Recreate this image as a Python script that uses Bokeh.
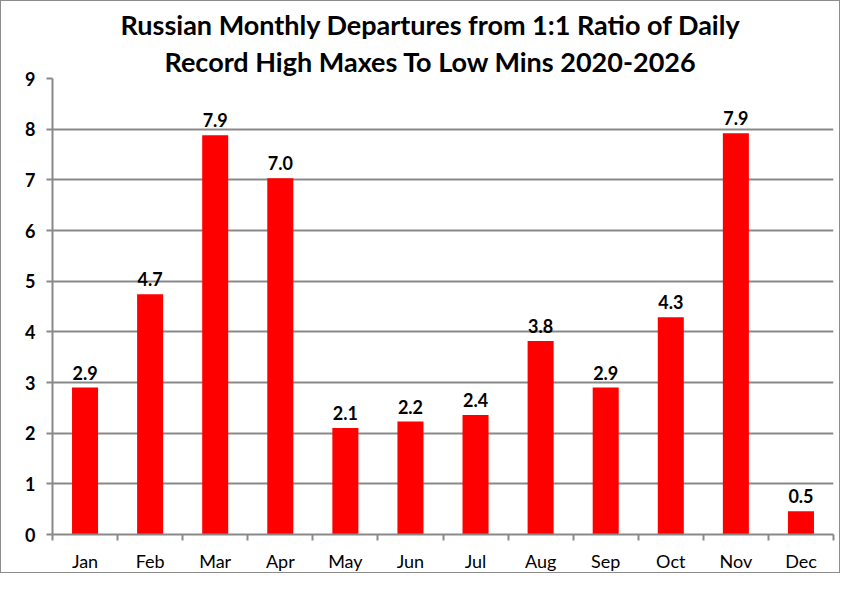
import numpy as np
from bokeh.plotting import figure
from bokeh.models import ColumnDataSource, LabelSet, Title, Range1d, FixedTicker
from bokeh.core.properties import value
from bokeh.embed import file_html
from bokeh.resources import INLINE

# 数据
months = ['Jan', 'Feb', 'Mar', 'Apr', 'May', 'Jun', 'Jul', 'Aug', 'Sep', 'Oct', 'Nov', 'Dec']
ratio = [2.90, 4.74, 7.88, 7.03, 2.10, 2.23, 2.36, 3.82, 2.90, 4.29, 7.92, 0.46]
y_ticks = [0, 1, 2, 3, 4, 5, 6, 7, 8, 9]
title_lines = ['Russian Monthly Departures from 1:1 Ratio of Daily',
               'Record High Maxes To Low Mins 2020-2026']

FONT = 'Lato'
GRID = '#898989'

xpos = [i + 0.5 for i in range(len(months))]
src = ColumnDataSource(dict(x=xpos, top=ratio,
                            lbl=['{:.1f}'.format(v) for v in ratio]))

p = figure(width=840, height=573,
           x_range=Range1d(0, len(months)), y_range=Range1d(0, 9),
           output_backend="svg", toolbar_location=None,
           min_border_left=51, min_border_right=8,
           min_border_top=77, min_border_bottom=30)
p.outline_line_color = None
p.background_fill_color = 'white'
p.border_fill_color = 'white'
p.styles = {"border": "1px solid #8c8c8c"}

# 标题（两行，先加第二行，靠近绘图区；整图居中而非绘图区居中）
p.title = None
for t, off in zip(reversed(title_lines), [112, 68]):
    p.add_layout(Title(text=t, align='left', text_font=FONT,
                       text_font_style='bold', text_font_size='27px',
                       text_color='black', standoff=2, offset=off), 'above')

# 柱子
p.vbar(x='x', top='top', width=0.4, bottom=0, source=src,
       fill_color='#ff0000', line_color=None)

# 数值标签
labels = LabelSet(x='x', y='top', text='lbl', source=src,
                  text_align='center', text_baseline='bottom', y_offset=8,
                  text_font=value(FONT), text_font_style='bold',
                  text_font_size='18px', text_color='black')
p.add_layout(labels)

# y轴
p.yaxis.ticker = FixedTicker(ticks=y_ticks)
p.yaxis.axis_line_color = GRID
p.yaxis.axis_line_width = 2
p.yaxis.major_tick_line_color = GRID
p.yaxis.major_tick_line_width = 2
p.yaxis.major_tick_out = 6
p.yaxis.major_tick_in = 0
p.yaxis.minor_tick_line_color = None
p.yaxis.major_label_standoff = 11
p.yaxis.major_label_text_font = FONT
p.yaxis.major_label_text_font_style = 'bold'
p.yaxis.major_label_text_font_size = '18px'
p.yaxis.major_label_text_color = 'black'

# x轴：标签在柱中心，刻度在类别边界
p.xaxis.ticker = FixedTicker(ticks=xpos, minor_ticks=list(range(len(months) + 1)))
p.xaxis.major_label_overrides = {x: m for x, m in zip(xpos, months)}
p.xaxis.axis_line_color = GRID
p.xaxis.axis_line_width = 2
p.xaxis.major_tick_line_color = None
p.xaxis.major_tick_out = 0
p.xaxis.major_tick_in = 0
p.xaxis.minor_tick_line_color = GRID
p.xaxis.minor_tick_line_width = 2
p.xaxis.minor_tick_out = 6
p.xaxis.minor_tick_in = 0
p.xaxis.major_label_standoff = 9
p.xaxis.major_label_text_font = FONT
p.xaxis.major_label_text_font_size = '18px'
p.xaxis.major_label_text_color = 'black'

# 网格
p.xgrid.grid_line_color = None
p.ygrid.ticker = FixedTicker(ticks=y_ticks)
p.ygrid.grid_line_color = GRID
p.ygrid.grid_line_width = 2

open("out.html", "w").write(file_html(p, INLINE))
